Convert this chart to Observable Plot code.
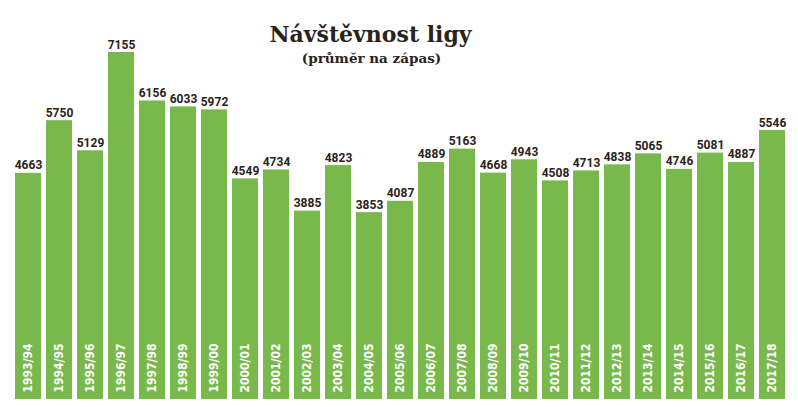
<!DOCTYPE html>
<html><head><meta charset="utf-8">
<script src="https://cdn.jsdelivr.net/npm/d3@7"></script>
<script src="https://cdn.jsdelivr.net/npm/@observablehq/plot@0.6"></script>
<style>
html,body{margin:0;padding:0;background:#fff;}
</style></head>
<body><div id="chart"></div>
<script>
const seasons = ["1993/94","1994/95","1995/96","1996/97","1997/98","1998/99","1999/00","2000/01","2001/02","2002/03","2003/04","2004/05","2005/06","2006/07","2007/08","2008/09","2009/10","2010/11","2011/12","2012/13","2013/14","2014/15","2015/16","2016/17","2017/18"];
const attendance = [4663,5750,5129,7155,6156,6033,5972,4549,4734,3885,4823,3853,4087,4889,5163,4668,4943,4508,4713,4838,5065,4746,5081,4887,5546];
const title = "Návštěvnost ligy";
const subtitle = "(průměr na zápas)";

const data = seasons.map((s, i) => ({season: s, value: attendance[i]}));
const dark = "#2b2219";
const green = "#79b94c";
const numFont = "Roboto, 'DejaVu Sans Condensed', sans-serif";
const labFont = "'DejaVu Sans Condensed', sans-serif";
const slab = "'DejaVu Serif', serif";

const chart = Plot.plot({
  width: 798,
  height: 407,
  marginLeft: 10,
  marginRight: 8,
  marginTop: 52,
  marginBottom: 8,
  x: {domain: seasons, padding: 0.16, axis: null},
  y: {domain: [0, 7155], axis: null},
  marks: [
    Plot.barY(data, {x: "season", y: "value", fill: green}),
    Plot.text(data, {x: "season", y: "value", text: d => String(d.value), dy: -4, lineAnchor: "bottom", fill: dark, fontSize: 12, fontWeight: "bold", fontFamily: numFont}),
    Plot.text(data, {x: "season", y: 0, text: "season", rotate: -90, textAnchor: "start", lineAnchor: "middle", dy: -7, fill: "#fff", fontSize: 12, fontWeight: "bold", fontFamily: labFont}),
    Plot.text([title], {frameAnchor: "top", dx: -30, dy: -11, text: d => d, fill: dark, fontSize: 22, fontWeight: "bold", fontFamily: slab, lineAnchor: "bottom"}),
    Plot.text([subtitle], {frameAnchor: "top", dx: -29, dy: 10, text: d => d, fill: dark, fontSize: 13.5, fontWeight: "bold", fontFamily: slab, lineAnchor: "bottom"})
  ]
});
document.getElementById("chart").appendChild(chart);
</script>
</body></html>
